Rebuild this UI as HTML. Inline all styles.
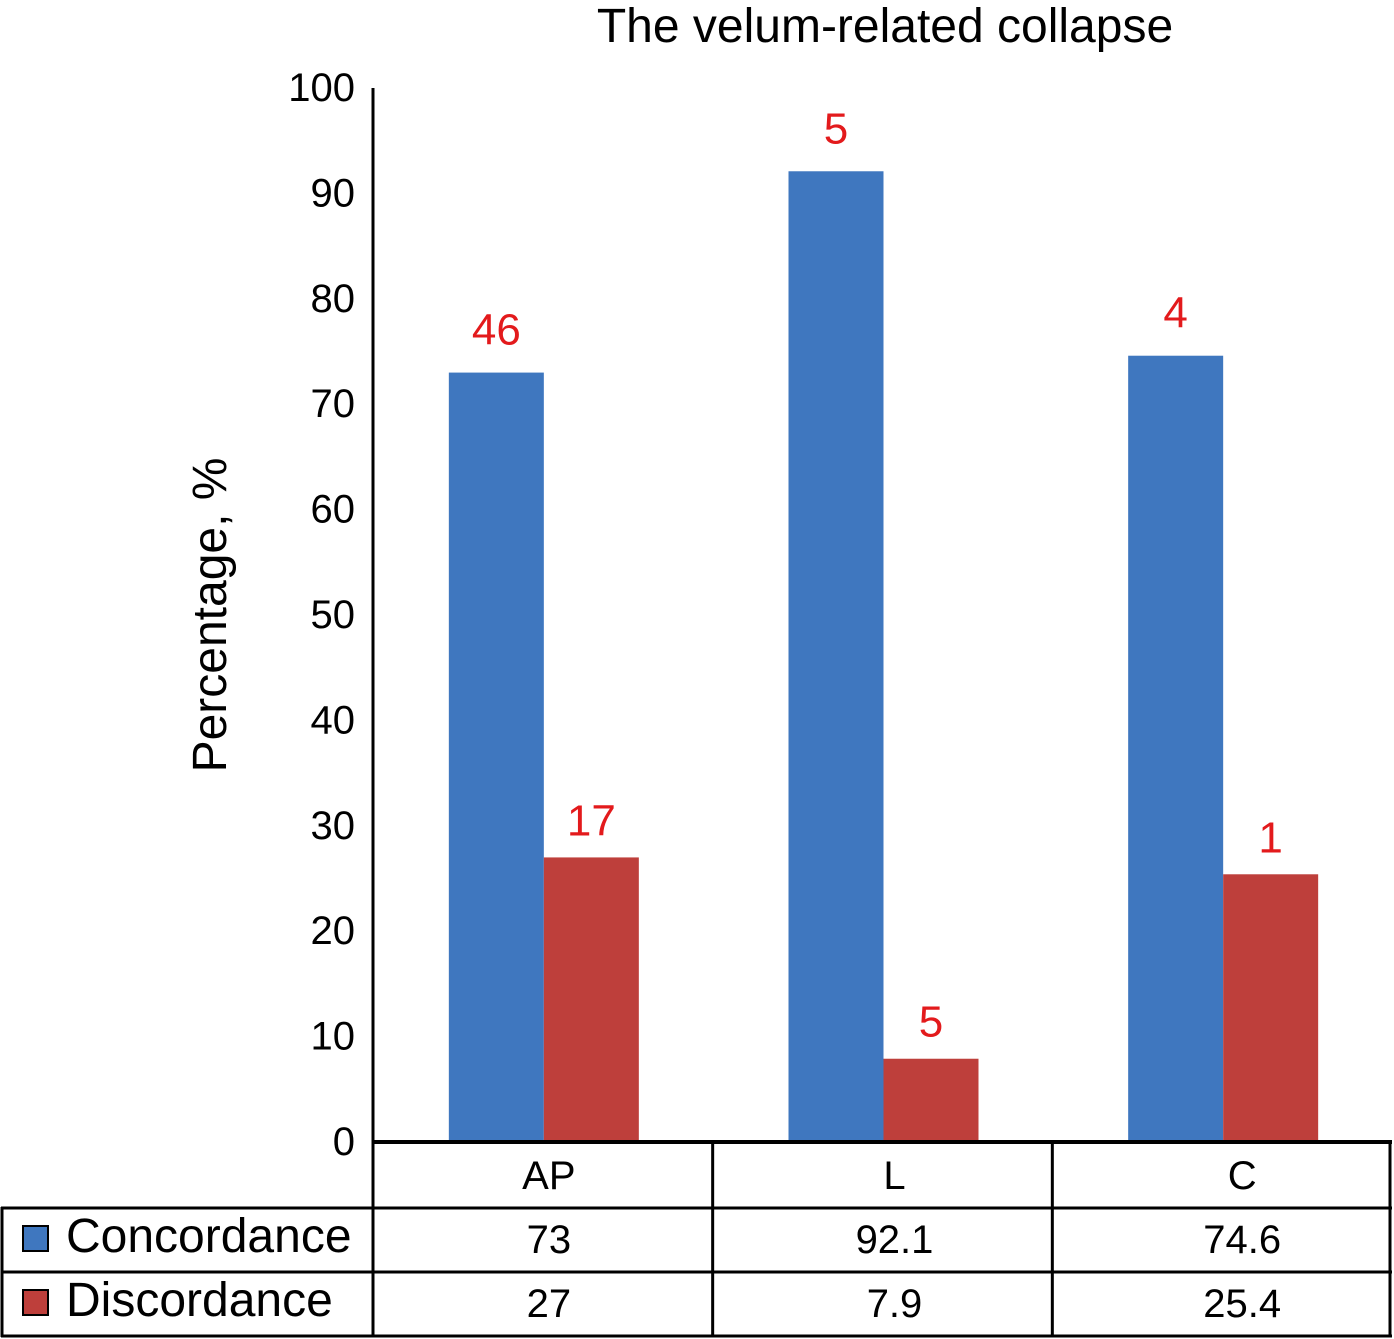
<!DOCTYPE html>
<html><head><meta charset="utf-8"><style>
html,body{margin:0;padding:0;background:#fff;}
svg{display:block;font-family:"Liberation Sans",Arial,sans-serif;}
</style></head><body>
<svg id="chart" width="1394" height="1339" viewBox="0 0 1394 1339">
<text x="885" y="42" font-size="48" text-anchor="middle" fill="#000">The velum-related collapse</text>
<text transform="translate(226,615) rotate(-90)" font-size="48" text-anchor="middle" fill="#000">Percentage, %</text>
<g id="ticks"></g>
<g id="bars"></g>
<g id="table"></g>
</svg>
<script>
const categories = ["AP", "L", "C"];
const concordance = [73, 92.1, 74.6];
const discordance = [27, 7.9, 25.4];
const concordanceCounts = ["46", "5", "4"];
const discordanceCounts = ["17", "5", "1"];
const yTicks = [0, 10, 20, 30, 40, 50, 60, 70, 80, 90, 100];

const NS = "http://www.w3.org/2000/svg";
const x0 = 373, x1 = 1392, yBase = 1142, yTop = 88;
const colW = (x1 - x0) / categories.length;
const textShift = [6, 12, 20];
function yScale(v) { return yBase - (v / 100) * (yBase - yTop); }
function mk(tag, attrs, parent) {
  const e = document.createElementNS(NS, tag);
  for (const k in attrs) e.setAttribute(k, attrs[k]);
  parent.appendChild(e);
  return e;
}
const ticksG = document.getElementById("ticks");
const barsG = document.getElementById("bars");
const tableG = document.getElementById("table");

yTicks.forEach(t => {
  const tx = mk("text", {x: 355, y: yScale(t) + 13, "font-size": 40, "text-anchor": "end", fill: "#000"}, ticksG);
  tx.textContent = t;
  
  
});
const yAxis = mk("line", {x1: x0, y1: yTop, x2: x0, y2: yBase, stroke: "#000", "stroke-width": 3}, ticksG);



const barW = 95;
categories.forEach((c, i) => {
  const cx = x0 + colW * (i + 0.5) + 1;
  const bx = cx - barW;
  const b1 = mk("rect", {x: bx, y: yScale(concordance[i]), width: barW, height: yBase - yScale(concordance[i]), fill: "#3f77bf"}, barsG);
  
  
  const b2 = mk("rect", {x: cx, y: yScale(discordance[i]), width: barW, height: yBase - yScale(discordance[i]), fill: "#be3f3b"}, barsG);
  
  
  const l1 = mk("text", {x: bx + barW / 2, y: yScale(concordance[i]) - 28, "font-size": 44, "text-anchor": "middle", fill: "#e31a1c"}, barsG);
  l1.textContent = concordanceCounts[i];
  
  
  const l2 = mk("text", {x: cx + barW / 2, y: yScale(discordance[i]) - 22, "font-size": 44, "text-anchor": "middle", fill: "#e31a1c"}, barsG);
  l2.textContent = discordanceCounts[i];
  
  
});

const rows = [1142, 1207, 1272, 1336];
function ln(a, b, c, d, w) {
  const l = mk("line", {x1: a, y1: b, x2: c, y2: d, stroke: "#000", "stroke-width": w}, tableG);
  
  
}
ln(x0, 1142, 1392, 1142, 4);
ln(1, 1208, 1392, 1208, 3);
ln(1, 1272, 1392, 1272, 3);
ln(1, 1336, 1392, 1336, 3);
ln(2, 1207, 2, 1337, 3);
ln(x0, 1142, x0, 1337, 3);
for (let i = 1; i <= categories.length; i++) ln(x0 + colW * i - (i === categories.length ? 2 : 0), 1142, x0 + colW * i - (i === categories.length ? 2 : 0), 1337, 3);

categories.forEach((c, i) => {
  const cx = x0 + colW * (i + 0.5) + textShift[i];
  const h = mk("text", {x: cx, y: 1189, "font-size": 40, "text-anchor": "middle", fill: "#000"}, tableG);
  h.textContent = c;
  
  
  const v1 = mk("text", {x: cx, y: 1253, "font-size": 40, "text-anchor": "middle", fill: "#000"}, tableG);
  v1.textContent = concordance[i];
  
  
  const v2 = mk("text", {x: cx, y: 1317, "font-size": 40, "text-anchor": "middle", fill: "#000"}, tableG);
  v2.textContent = discordance[i];
  
  
});
const s1 = mk("rect", {x: 23, y: 1226, width: 25, height: 25, fill: "#3f77bf", stroke: "#000", "stroke-width": 2}, tableG);


const t1 = mk("text", {x: 66, y: 1252, "font-size": 48, fill: "#000"}, tableG);
t1.textContent = "Concordance";


const s2 = mk("rect", {x: 23, y: 1290, width: 25, height: 25, fill: "#be3f3b", stroke: "#000", "stroke-width": 2}, tableG);


const t2 = mk("text", {x: 66, y: 1316, "font-size": 48, fill: "#000"}, tableG);
t2.textContent = "Discordance";


</script>
</body></html>
